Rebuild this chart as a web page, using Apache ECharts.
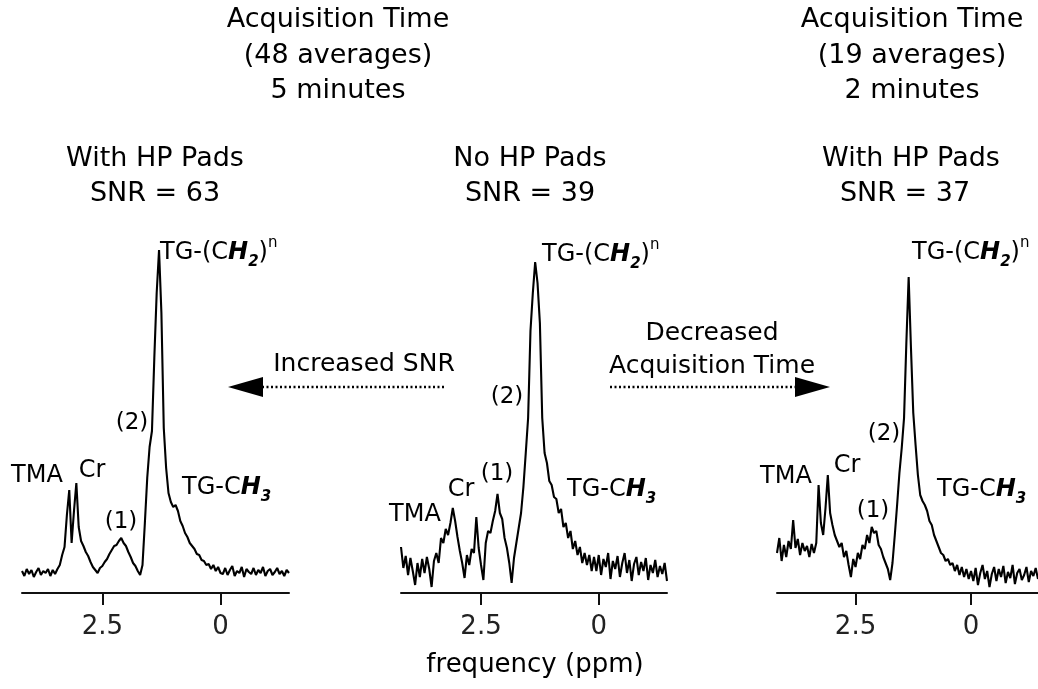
<!DOCTYPE html>
<html><head><meta charset="utf-8">
<script src="https://cdn.jsdelivr.net/npm/echarts@6/dist/echarts.min.js"></script>
<style>html,body{margin:0;padding:0;background:#fff}#c{width:1038px;height:689px}</style>
</head><body><div id="c"></div>
<script>
// chemical shift sampling (ppm)
const ppm = [4.20,4.15,4.10,4.05,4.00,3.95,3.90,3.85,3.80,3.75,3.70,3.65,3.60,3.55,3.50,3.45,3.40,3.35,3.30,3.25,
3.20,3.15,3.10,3.05,3.00,2.95,2.90,2.85,2.80,2.75,2.70,2.65,2.60,2.55,2.50,2.45,2.40,2.35,2.30,2.25,
2.20,2.15,2.10,2.05,2.00,1.95,1.90,1.85,1.80,1.75,1.70,1.65,1.60,1.55,1.50,1.45,1.40,1.35,1.30,1.25,
1.20,1.15,1.10,1.05,1.00,0.95,0.90,0.85,0.80,0.75,0.70,0.65,0.60,0.55,0.50,0.45,0.40,0.35,0.30,0.25,
0.20,0.15,0.10,0.05,0.00,-0.05,-0.10,-0.15,-0.20,-0.25,-0.30,-0.35,-0.40,-0.45,-0.50,-0.55,-0.60,-0.65,-0.70,-0.75,
-0.80,-0.85,-0.90,-0.95,-1.00,-1.05,-1.10,-1.15,-1.20,-1.25,-1.30,-1.35,-1.40,-1.45];

// signal intensity (arbitrary units) — With HP Pads, 48 averages
const hp48 = [22,17,24,19,23,16,21,25,18,22,
20,24,17,23,19,24,28,38,46,78,
103,50,82,110,66,52,47,41,37,31,
26,23,20,25,27,31,34,39,43,47,
48,52,55,50,47,41,36,30,27,22,
18,28,70,115,146,162,235,300,343,280,
165,125,100,91,86,88,82,72,67,60,
56,50,47,44,39,38,33,32,28,29,
24,28,22,26,20,19,25,18,23,27,
17,22,20,26,16,24,21,19,25,18,
23,20,26,17,22,24,18,21,25,19,
22,17,23,20];

// No HP Pads, 48 averages
const noHP = [46,25,37,18,35,22,8,30,16,34,
20,36,24,6,32,40,30,55,50,64,
58,70,85,72,56,42,30,15,38,28,
44,40,76,45,28,13,50,62,60,72,
82,99,80,74,55,45,30,10,35,50,
65,80,106,140,175,262,300,331,310,270,
175,140,130,112,108,96,94,80,84,66,
70,55,62,44,52,38,46,30,40,28,
38,22,36,22,38,18,34,26,40,14,
32,24,37,16,30,40,20,33,12,29,
36,18,31,22,35,13,28,20,33,16,
27,19,30,12];

// With HP Pads, 19 averages
const hp19 = [40,55,32,48,36,52,44,73,45,54,
38,50,42,47,36,49,40,50,108,70,
58,85,118,80,68,58,52,46,50,36,
42,28,16,34,26,40,34,48,44,58,
50,66,60,62,48,44,36,30,24,13,
30,58,88,120,145,175,250,316,245,180,
148,118,98,92,88,82,72,68,58,52,
46,40,38,32,34,28,30,22,28,18,
26,16,24,14,22,12,25,8,20,28,
14,22,6,19,26,12,24,16,27,10,
21,15,28,9,20,24,13,18,26,11,
22,17,25,14];

const tickValues = [2.5, 0];
const groupHeads = [['Acquisition Time','(48 averages)','5 minutes'],['Acquisition Time','(19 averages)','2 minutes']];
const panelHeads = [['With HP Pads','SNR = 63'],['No HP Pads','SNR = 39'],['With HP Pads','SNR = 37']];
const peakNames = ['TMA','Cr','(1)','(2)'];
const arrowTexts = ['Increased SNR','Decreased','Acquisition Time'];
const xTitle = 'frequency (ppm)';
const spectra = [hp48, noHP, hp19];

const F = 'DejaVu Sans';
const INK = '#000';
const chart = echarts.init(document.getElementById('c'), null, {renderer:'canvas'});

const gridBoxes = [{left:22,width:267},{left:401,width:266},{left:777,width:267}];

function T(x, y, text, size, align, extra) {
  return Object.assign({type:'text', x:x, y:y, silent:true, style:{text:text, fontFamily:F, fontSize:size, fill:INK,
    align:align||'center', verticalAlign:'middle'}}, extra||{});
}
const richBase = {
  a:{fontFamily:F,fontSize:24,lineHeight:34,fill:INK,color:INK},
  bi:{fontFamily:F,fontSize:24,lineHeight:34,fontWeight:'bold',fontStyle:'italic',fill:INK,color:INK},
  sub:{fontFamily:F,fontSize:15,lineHeight:12,fontWeight:'bold',fontStyle:'italic',verticalAlign:'bottom',fill:INK,color:INK},
  sup:{fontFamily:F,fontSize:15,lineHeight:24,verticalAlign:'top',fill:INK,color:INK}
};
function RT(x, y, text) {
  return {type:'text', x:x, y:y, silent:true, style:{text:text, rich:richBase, fontFamily:F, fontSize:24, fill:INK, align:'left', verticalAlign:'middle'}};
}
const ch2 = '{a|TG-(C}{bi|H}{sub|2}{a|)}{sup|n}';
const ch3 = '{a|TG-C}{bi|H}{sub|3}';

const graphics = [];
// group headings
[[338, groupHeads[0]], [912, groupHeads[1]]].forEach(([cx, lines]) => {
  lines.forEach((t, k) => graphics.push(T(cx, 20 + k*35.5, t, 27)));
});
// panel headings
[[155,155],[530,530],[911,905]].forEach((cx, i) => {
  graphics.push(T(cx[0], 159, panelHeads[i][0], 27));
  graphics.push(T(cx[1], 194, panelHeads[i][1], 27));
});
// peak labels
const peakPos = [
  {ch2:[160,253], tma:[37,476], cr:[92,471], p1:[121,522], p2:[132,423], ch3:[182,488]},
  {ch2:[542,255], tma:[415,515], cr:[461,490], p1:[497,474], p2:[507,397], ch3:[567,490]},
  {ch2:[912,253], tma:[786,477], cr:[847,466], p1:[873,511], p2:[884,434], ch3:[937,490]}
];
peakPos.forEach(p => {
  graphics.push(RT(p.ch2[0], p.ch2[1], ch2));
  graphics.push(RT(p.ch3[0], p.ch3[1], ch3));
  graphics.push(T(p.tma[0], p.tma[1], peakNames[0], 24));
  graphics.push(T(p.cr[0], p.cr[1], peakNames[1], 24));
  graphics.push(T(p.p1[0], p.p1[1], peakNames[2], 23));
  graphics.push(T(p.p2[0], p.p2[1], peakNames[3], 23));
});
// arrows
graphics.push(T(364, 364, arrowTexts[0], 25));
graphics.push(T(712, 333, arrowTexts[1], 25));
graphics.push(T(712, 366, arrowTexts[2], 25));
graphics.push({type:'line', silent:true, shape:{x1:262,y1:387,x2:446,y2:387}, style:{stroke:INK,lineWidth:2.5,lineDash:[2,2.5]}});
graphics.push({type:'polygon', silent:true, shape:{points:[[228,387],[263,377],[263,397]]}, style:{fill:INK}});
graphics.push({type:'line', silent:true, shape:{x1:610,y1:387,x2:796,y2:387}, style:{stroke:INK,lineWidth:2.5,lineDash:[2,2.5]}});
graphics.push({type:'polygon', silent:true, shape:{points:[[830,387],[795,377],[795,397]]}, style:{fill:INK}});
// x title
graphics.push(T(535, 665, xTitle, 26));

const option = {
  animation:false,
  backgroundColor:'#fff',
  grid: gridBoxes.map(g => ({left:g.left, width:g.width, top:243, height:350})),
  xAxis: gridBoxes.map((g,i) => ({
    gridIndex:i, type:'value', min:-1.45, max:4.2, inverse:true,
    axisLine:{show:true, onZero:false, lineStyle:{color:'#111', width:2}},
    axisTick:{show:true, customValues:tickValues, length:12, inside:false, lineStyle:{color:'#111', width:2}},
    axisLabel:{show:true, customValues:tickValues, margin:21, fontFamily:F, fontSize:26, color:'#222', formatter:v => String(v)},
    splitLine:{show:false}
  })),
  yAxis: gridBoxes.map((g,i) => ({gridIndex:i, type:'value', min:0, max:350, show:false})),
  series: spectra.map((arr,i) => ({
    type:'line', xAxisIndex:i, yAxisIndex:i, showSymbol:false, symbol:'none', clip:false,
    lineStyle:{color:'#000', width:2.1}, silent:true,
    data: ppm.map((p,j) => [p, arr[j]])
  })),
  graphic: graphics
};
chart.setOption(option);
</script>
</body></html>
